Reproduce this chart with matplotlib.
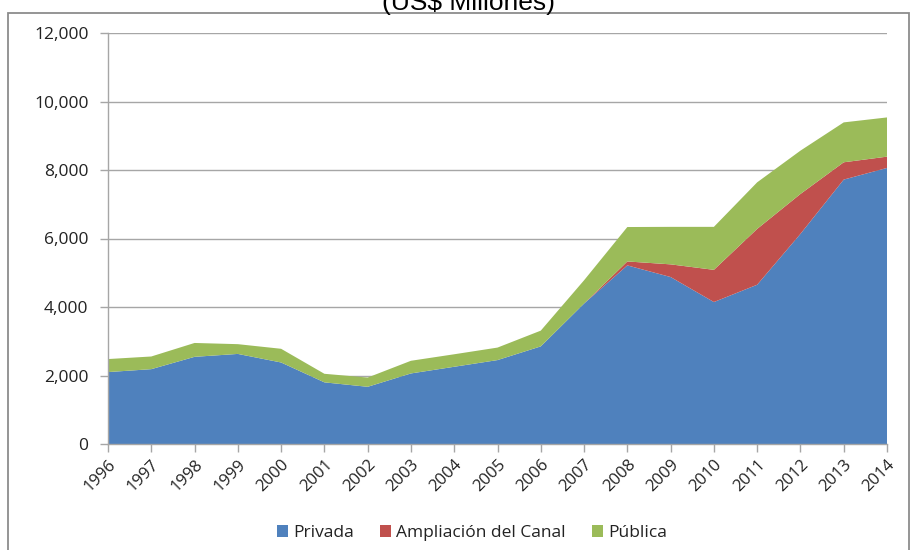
import matplotlib
matplotlib.use("Agg")
import matplotlib.pyplot as plt
from matplotlib.patches import Rectangle
from matplotlib.ticker import FuncFormatter

years = list(range(1996, 2015))
privada = [2100, 2185, 2545, 2630, 2380, 1800, 1670, 2060, 2255, 2450, 2850,
           4100, 5215, 4875, 4145, 4650, 6135, 7720, 8060]
canal = [0, 0, 0, 0, 0, 0, 0, 0, 0, 0, 0,
         0, 115, 370, 940, 1630, 1165, 505, 330]
publica = [380, 370, 405, 285, 400, 250, 270, 370, 365, 365, 460,
           680, 1005, 1095, 1255, 1360, 1265, 1165, 1145]
series_names = ["Privada", "Ampliación del Canal", "Pública"]
colors = ["#4F81BD", "#C0504D", "#9BBB59"]
title = "(US$ Millones)"

W, H = 914, 550
fig = plt.figure(figsize=(W / 100, H / 100), dpi=100)
fig.patch.set_facecolor("white")

# outer chart frame
fig.patches.append(Rectangle((8 / W, -0.05), (909 - 8) / W, (H - 13) / H + 0.05,
                             transform=fig.transFigure, fill=False,
                             edgecolor="#8c8c8c", linewidth=1.3))

fig.text(468 / W, 1 - 10 / H, title, ha="center", va="baseline",
         fontsize=19, family="Liberation Sans", color="#000000")

ax = fig.add_axes([108 / W, 106 / H, (887 - 108) / W, (444 - 33) / H])
ax.stackplot(years, privada, canal, publica, colors=colors, labels=series_names,
             linewidth=0)

ax.set_xlim(1996, 2014)
ax.set_ylim(0, 12000)
ax.set_yticks(range(0, 12001, 2000))
ax.yaxis.set_major_formatter(FuncFormatter(lambda v, p: f"{int(v):,}"))
ax.set_xticks(years)
ax.set_xticklabels([str(y) for y in years], rotation=45, ha="right",
                   rotation_mode="anchor")

ax.grid(axis="y", color="#a6a6a6", linewidth=1.0)
ax.set_axisbelow(True)
for s in ["top", "right"]:
    ax.spines[s].set_visible(False)
for s in ["left", "bottom"]:
    ax.spines[s].set_color("#a6a6a6")
    ax.spines[s].set_linewidth(1.0)

ax.tick_params(axis="both", colors="#a6a6a6", labelcolor="#222222",
               length=6, width=1.0)
ax.tick_params(axis="y", pad=8, labelsize=12.5)
ax.tick_params(axis="x", pad=3, labelsize=12)
for lab in ax.get_xticklabels() + ax.get_yticklabels():
    lab.set_family("Open Sans")

leg = fig.legend(*ax.get_legend_handles_labels(), loc="center",
                 bbox_to_anchor=(472 / W, 1 - 533 / H), ncol=3, frameon=False,
                 prop={"family": "Open Sans", "size": 12.5}, handlelength=0.63,
                 handleheight=0.63, handletextpad=0.3, columnspacing=1.5)
for t in leg.get_texts():
    t.set_color("#222222")

fig.savefig("out.png", dpi=100)
